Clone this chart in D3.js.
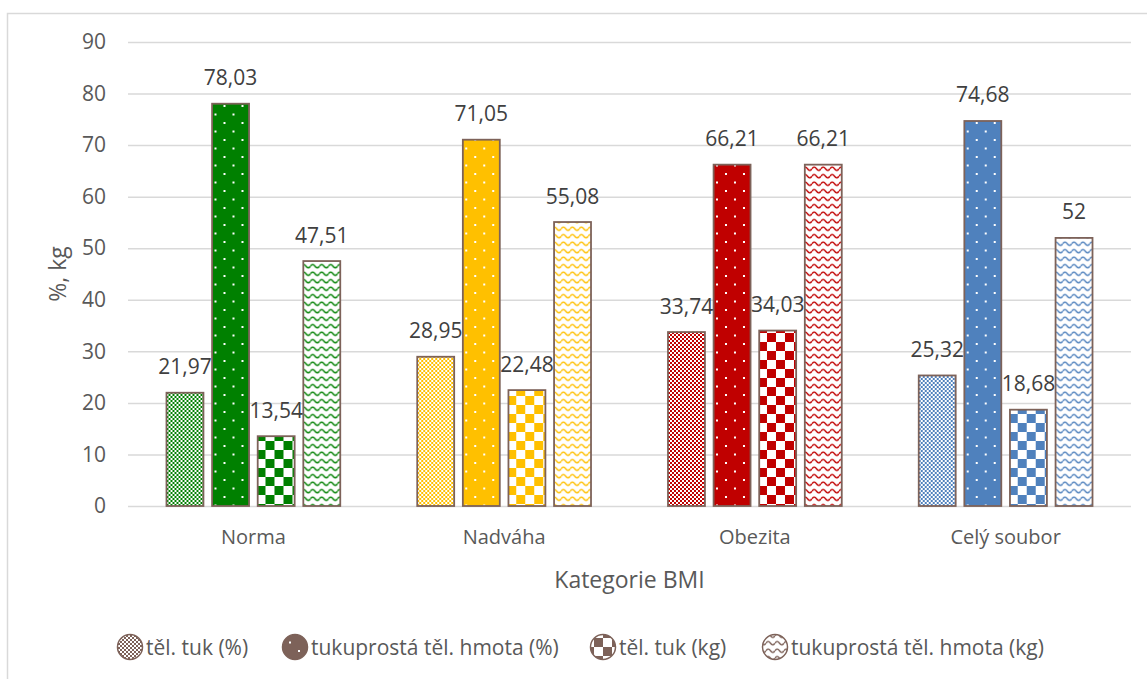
<!DOCTYPE html>
<html lang="cs">
<head>
<meta charset="utf-8">
<script src="https://cdn.jsdelivr.net/npm/d3@7"></script>
<style>
  html, body { margin: 0; padding: 0; background: #fff; }
  svg { display: block; font-family: "Open Sans", "Lato", sans-serif; }
</style>
</head>
<body>
<svg id="chart" width="1147" height="679"></svg>
<script>
// BMI categories and the four measured series
const categories = ["Norma", "Nadváha", "Obezita", "Celý soubor"];
const seriesNames = ["těl. tuk (%)", "tukuprostá těl. hmota (%)", "těl. tuk (kg)", "tukuprostá těl. hmota (kg)"];
const fatPct = [21.97, 28.95, 33.74, 25.32];
const leanPct = [78.03, 71.05, 66.21, 74.68];
const fatKg = [13.54, 22.48, 34.03, 18.68];
const leanKg = [47.51, 55.08, 66.21, 52];
const yTicks = [0, 10, 20, 30, 40, 50, 60, 70, 80, 90];

const seriesValues = [fatPct, leanPct, fatKg, leanKg];
const categoryColors = ["#008000", "#FFC000", "#C00000", "#4F81BD"];
const patternKinds = ["grid", "dots", "checker", "wave"];
const outline = "#7d6259";

const svg = d3.select("#chart");
const W = 1147, H = 679;
const plot = { left: 128, right: 1131, top: 42, bottom: 506 };

// chart frame (left and top edges visible)
svg.append("path")
  .attr("d", `M7.5,${H} V13.5 H${W}`)
  .attr("fill", "none").attr("stroke", "#d9d9d9").attr("stroke-width", 1.5);

// fill patterns, one per colour and series kind
const defs = svg.append("defs");
function makePattern(id, kind, color) {
  if (kind === "grid") {
    const p = defs.append("pattern").attr("id", id).attr("patternUnits", "userSpaceOnUse")
      .attr("width", 4).attr("height", 4);
    p.append("rect").attr("width", 4).attr("height", 4).attr("fill", "#fff");
    p.append("rect").attr("width", 2).attr("height", 2).attr("fill", color);
    p.append("rect").attr("x", 2).attr("y", 2).attr("width", 2).attr("height", 2).attr("fill", color);
  } else if (kind === "dots") {
    const p = defs.append("pattern").attr("id", id).attr("patternUnits", "userSpaceOnUse")
      .attr("width", 18).attr("height", 17);
    p.append("rect").attr("width", 18).attr("height", 17).attr("fill", color);
    p.append("rect").attr("x", 3).attr("y", 3).attr("width", 2).attr("height", 2).attr("fill", "#fff");
    p.append("rect").attr("x", 12).attr("y", 11.5).attr("width", 2).attr("height", 2).attr("fill", "#fff");
  } else if (kind === "checker") {
    const p = defs.append("pattern").attr("id", id).attr("patternUnits", "userSpaceOnUse")
      .attr("width", 18).attr("height", 18);
    p.append("rect").attr("width", 18).attr("height", 18).attr("fill", "#fff");
    p.append("rect").attr("width", 9).attr("height", 9).attr("fill", color);
    p.append("rect").attr("x", 9).attr("y", 9).attr("width", 9).attr("height", 9).attr("fill", color);
  } else {
    const p = defs.append("pattern").attr("id", id).attr("patternUnits", "userSpaceOnUse")
      .attr("width", 9).attr("height", 7.5);
    p.append("rect").attr("width", 9).attr("height", 7.5).attr("fill", "#fff");
    p.append("path").attr("d", "M0,3.75 Q2.25,0.5 4.5,3.75 T9,3.75")
      .attr("fill", "none").attr("stroke", color).attr("stroke-width", 1.4);
  }
}
categoryColors.forEach((c, ci) => patternKinds.forEach((k, si) => makePattern(`p-${ci}-${si}`, k, c)));
patternKinds.forEach((k, si) => makePattern(`p-legend-${si}`, k, outline));

// scales
const y = d3.scaleLinear().domain([0, 90]).range([plot.bottom, plot.top]);
const x0 = d3.scaleBand().domain(categories).range([plot.left, plot.right])
  .paddingInner(0.307).paddingOuter(0.1535);
const x1 = d3.scaleBand().domain(d3.range(seriesNames.length)).range([0, x0.bandwidth()])
  .paddingInner(0.19);

// y gridlines and tick labels
const yAxis = svg.append("g").attr("transform", `translate(${plot.left},0)`)
  .call(d3.axisLeft(y).tickValues(yTicks).tickSize(-(plot.right - plot.left)).tickPadding(22));
yAxis.select(".domain").remove();
yAxis.selectAll(".tick line").attr("stroke", "#d9d9d9").attr("stroke-width", 1.5);
yAxis.selectAll(".tick text").attr("fill", "#595959").attr("font-size", 21)
  .attr("font-family", "'Open Sans', sans-serif");

// bars
const groups = svg.append("g").selectAll("g").data(categories).join("g")
  .attr("transform", d => `translate(${x0(d)},0)`);
groups.each(function (cat, ci) {
  const g = d3.select(this);
  const rows = seriesValues.map((vals, si) => ({ si, v: vals[ci] }));
  g.selectAll("rect").data(rows).join("rect")
    .attr("x", d => x1(d.si))
    .attr("y", d => y(d.v))
    .attr("width", x1.bandwidth())
    .attr("height", d => y(0) - y(d.v))
    .attr("fill", d => `url(#p-${ci}-${d.si})`)
    .attr("stroke", outline).attr("stroke-width", 1.8);
  g.selectAll("text").data(rows).join("text")
    .attr("x", d => x1(d.si) + x1.bandwidth() / 2)
    .attr("y", d => y(d.v) - 18.5)
    .attr("text-anchor", "middle")
    .attr("fill", "#404040").attr("font-size", 21)
    .text(d => String(d.v).replace(".", ","));
});

// category axis labels
svg.append("g").selectAll("text").data(categories).join("text")
  .attr("x", d => x0(d) + x0.bandwidth() / 2)
  .attr("y", 543.5)
  .attr("text-anchor", "middle")
  .attr("fill", "#595959").attr("font-size", 20)
  .text(d => d);

// axis titles
svg.append("text").attr("x", (plot.left + plot.right) / 2).attr("y", 588)
  .attr("text-anchor", "middle").attr("fill", "#595959").attr("font-size", 23)
  .text("Kategorie BMI");
svg.append("text").attr("transform", `translate(66,${(plot.top + plot.bottom) / 2}) rotate(-90)`)
  .attr("text-anchor", "middle").attr("fill", "#595959").attr("font-size", 23)
  .text("%, kg");

// legend
const legendX = [130, 295, 603, 775];
const legend = svg.append("g").selectAll("g").data(seriesNames).join("g")
  .attr("transform", (d, i) => `translate(${legendX[i]},647)`);
legend.append("circle").attr("r", 12.5)
  .attr("fill", (d, i) => `url(#p-legend-${i})`)
  .attr("stroke", outline).attr("stroke-width", 1.5);
legend.append("text").attr("x", 16).attr("y", 7.5)
  .attr("fill", "#595959").attr("font-size", 21)
  .text(d => d);
</script>
</body>
</html>
